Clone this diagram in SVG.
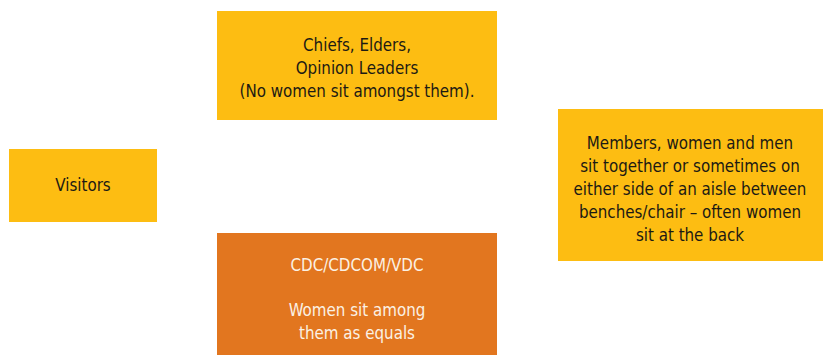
<svg xmlns="http://www.w3.org/2000/svg" width="825" height="356" viewBox="0 0 825 356">
<style>
.y{fill:#FDBD12}
.o{fill:#E2761F}
text{font-family:"DejaVu Sans Condensed","DejaVu Sans","Liberation Sans Narrow",sans-serif;font-stretch:condensed;font-size:16.8px;text-anchor:middle}
.d{fill:#1c1a14}
.w{fill:#FBF1E4}
</style>
<rect width="825" height="356" fill="#ffffff"/>
<g id="connectors"></g>
<g id="chiefs">
<rect class="y" x="217" y="11" width="280" height="109"/>
<text class="d" x="357" y="51">Chiefs, Elders,</text>
<text class="d" x="357" y="74">Opinion Leaders</text>
<text class="d" x="357" y="97">(No women sit amongst them).</text>
</g>
<g id="visitors">
<rect class="y" x="9" y="149" width="148" height="73"/>
<text class="d" x="83" y="191">Visitors</text>
</g>
<g id="cdc">
<rect class="o" x="217" y="233" width="280" height="122"/>
<text class="w" x="357" y="271">CDC/CDCOM/VDC</text>
<text class="w" x="357" y="316">Women sit among</text>
<text class="w" x="357" y="339">them as equals</text>
</g>
<g id="members">
<rect class="y" x="558" y="109" width="265" height="152"/>
<text class="d" x="690" y="149">Members, women and men</text>
<text class="d" x="690" y="172">sit together or sometimes on</text>
<text class="d" x="690" y="195">either side of an aisle between</text>
<text class="d" x="690" y="218">benches/chair – often women</text>
<text class="d" x="690" y="241">sit at the back</text>
</g>
</svg>
